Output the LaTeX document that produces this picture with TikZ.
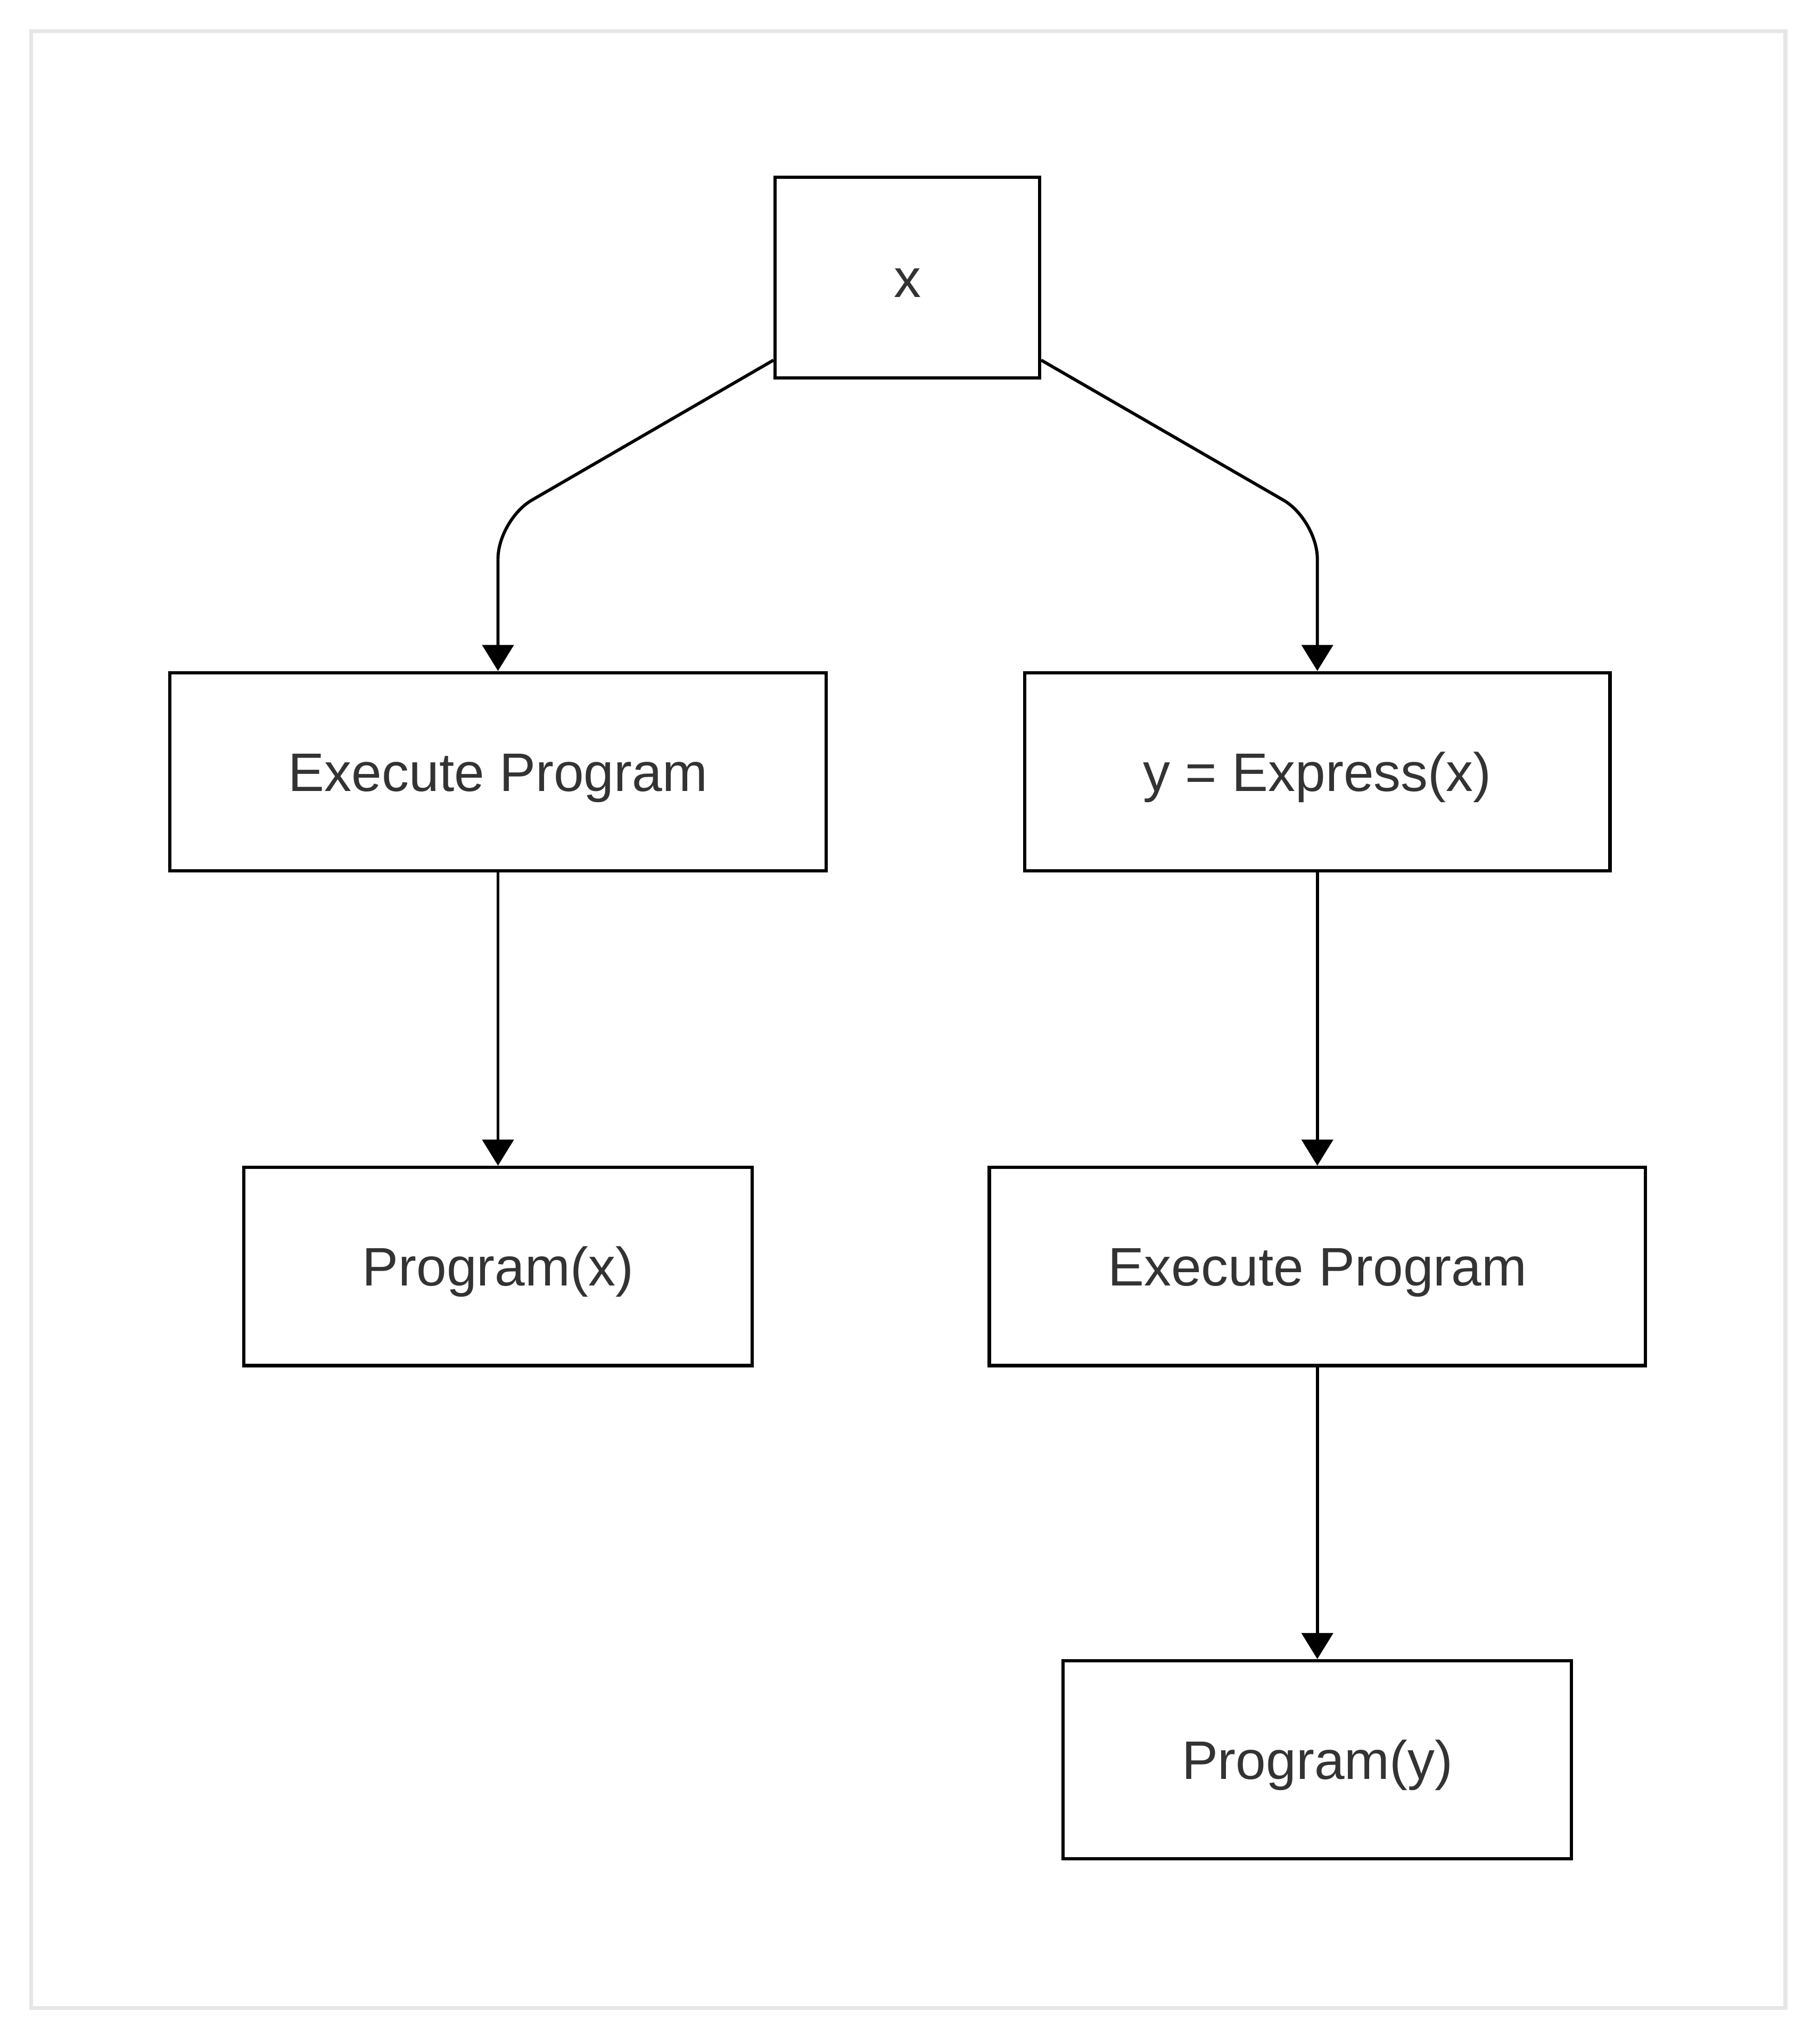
\documentclass[tikz,border=0pt]{standalone}
\usepackage{fontspec}
\setmainfont{Liberation Sans}
\usetikzlibrary{arrows.meta}
\definecolor{txt}{HTML}{333333}
\definecolor{framegray}{HTML}{E6E6E6}
\begin{document}
\begin{tikzpicture}[x=0.5pt,y=-0.5pt,
  box/.style={draw=black,line width=1.3pt,fill=white,text=txt,font=\fontsize{20.8}{25}\selectfont,minimum height=76pt,inner xsep=45.5pt,text height=15pt,text depth=0pt},
  edge/.style={line width=1.2pt,-{Triangle[width=12pt,length=10pt]},rounded corners=15pt}]
\useasboundingbox(0,0)rectangle(1396,1568);
\draw[framegray,line width=1.5pt](24,24)rectangle(1369.5,1540.5);
\node[box,minimum height=77pt](x)at(696,213){x};
\node[box](exl)at(382,592){Execute Program};
\node[box](expr)at(1010.5,592){y = Express(x)};
\node[box](progx)at(382,971.5){Program(x)};
\node[box](exr)at(1010.5,971.5){Execute Program};
\node[box](progy)at(1010.5,1350){Program(y)};
\draw[edge]([yshift=7.5pt]x.south west)--([yshift=58pt]exl.north)--(exl.north);
\draw[edge]([yshift=7.5pt]x.south east)--([yshift=58pt]expr.north)--(expr.north);
\draw[edge](exl)--(progx);
\draw[edge](expr)--(exr);
\draw[edge](exr)--(progy);
\end{tikzpicture}
\end{document}
